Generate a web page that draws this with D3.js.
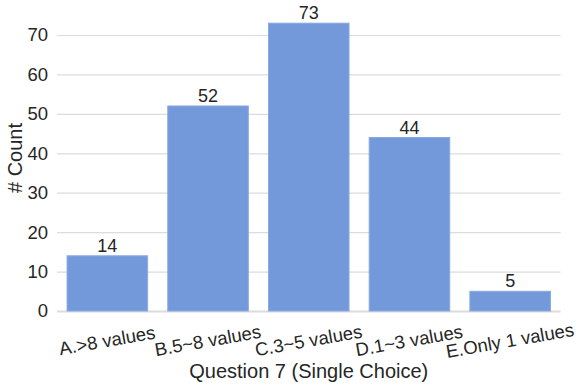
<!DOCTYPE html>
<html>
<head>
<meta charset="utf-8">
<script src="https://cdn.jsdelivr.net/npm/d3@7"></script>
<style>
  body { margin: 0; background: #fff; }
  text { font-family: "Liberation Sans", Arial, sans-serif; fill: #262626; }
</style>
</head>
<body>
<svg id="chart" width="581" height="387"></svg>
<script>
const categories = ["A.>8 values", "B.5~8 values", "C.3~5 values", "D.1~3 values", "E.Only 1 values"];
const counts = [14, 52, 73, 44, 5];
const yTicks = [0, 10, 20, 30, 40, 50, 60, 70];

const svg = d3.select("#chart");
const plotLeft = 57, plotRight = 560.5, plotTop = 35, plotBottom = 311;

let x = d3.scaleBand()
  .domain(categories)
  .range([plotLeft, plotRight])
  .paddingInner(0.2)
  .paddingOuter(0.1);

let y = d3.scaleLinear()
  .domain([0, 70])
  .range([plotBottom, plotTop]);

// gridlines + y labels
let yAxis = d3.axisLeft(y)
  .tickValues(yTicks)
  .tickSize(-(plotRight - plotLeft))
  .tickPadding(9)
  .tickFormat(d3.format("d"));

let gy = svg.append("g")
  .attr("transform", `translate(${plotLeft},0)`)
  .call(yAxis);
gy.select(".domain").remove();
gy.selectAll(".tick line")
  .attr("stroke", "#dcdcdc")
  .attr("stroke-width", d => d === 0 ? 2 : 1.2);
gy.selectAll(".tick text")
  .attr("font-size", 18.5)
  .attr("fill", "#262626");

// bars
svg.append("g")
  .selectAll("rect")
  .data(counts)
  .enter()
  .append("rect")
  .attr("x", (d, i) => x(categories[i]))
  .attr("width", x.bandwidth())
  .attr("y", d => y(d))
  .attr("height", d => y(0) - y(d))
  .attr("fill", "#7399db")
  .attr("stroke", "#8aabe2")
  .attr("stroke-width", 1);

// value labels
svg.append("g")
  .selectAll("text")
  .data(counts)
  .enter()
  .append("text")
  .attr("x", (d, i) => x(categories[i]) + x.bandwidth() / 2)
  .attr("y", d => y(d) - 4)
  .attr("text-anchor", "middle")
  .attr("font-size", 18)
  .text(d => d);

// x axis labels
let xAxis = d3.axisBottom(x).tickSize(0).tickPadding(0);
let gx = svg.append("g")
  .attr("transform", `translate(0,${plotBottom})`)
  .call(xAxis);
gx.select(".domain").remove();
gx.selectAll(".tick text")
  .attr("font-size", 18.5)
  .attr("fill", "#262626")
  .attr("text-anchor", "middle")
  .attr("dy", null)
  .attr("y", 0)
  .attr("transform", "translate(0,31) rotate(-10)")
  .attr("dominant-baseline", "middle");

// axis titles
svg.append("text")
  .attr("x", (plotLeft + plotRight) / 2)
  .attr("y", 378)
  .attr("text-anchor", "middle")
  .attr("font-size", 20)
  .text("Question 7 (Single Choice)");

svg.append("text")
  .attr("transform", "translate(22,158) rotate(-90)")
  .attr("text-anchor", "middle")
  .attr("font-size", 20)
  .text("# Count");
</script>
</body>
</html>
